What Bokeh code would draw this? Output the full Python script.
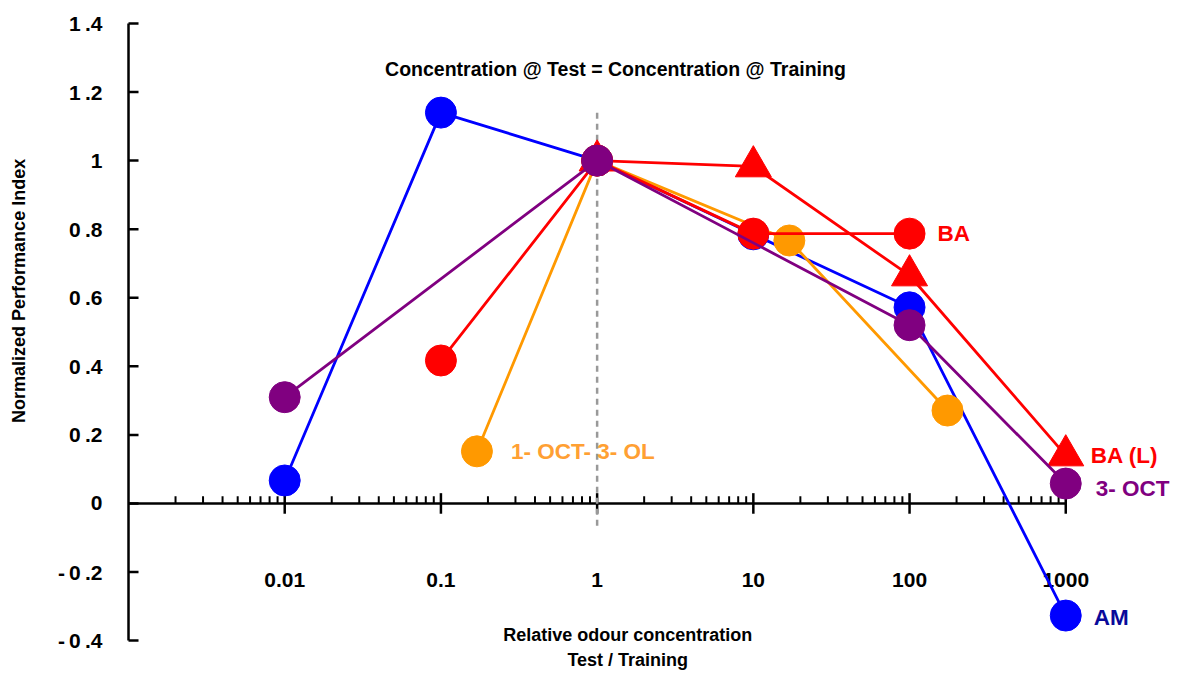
import numpy as np
from bokeh.plotting import figure
from bokeh.core.properties import value
from bokeh.embed import file_html
from bokeh.resources import INLINE

# ---- data ----
am_x = [0.01, 0.1, 1, 10, 100, 1000]
am_y = [0.067, 1.14, 1.0, 0.785, 0.572, -0.327]
ba_x = [0.1, 1, 10, 100]
ba_y = [0.417, 1.0, 0.787, 0.787]
bal_x = [1, 10, 100, 1000]
bal_y = [1.0, 0.983, 0.665, 0.14]
ol_x = [0.17, 1, 17, 175]
ol_y = [0.152, 1.0, 0.767, 0.271]
oct_x = [0.01, 1, 100, 1000]
oct_y = [0.31, 1.0, 0.52, 0.058]

x_tick_vals = [0.01, 0.1, 1, 10, 100, 1000]
x_tick_labels = ["0.01", "0.1", "1", "10", "100", "1000"]
y_tick_vals = [-0.4, -0.2, 0, 0.2, 0.4, 0.6, 0.8, 1.0, 1.2, 1.4]
T = "\u2009"
y_tick_labels = ["-" + T + "0" + T + ".4", "-" + T + "0" + T + ".2", "0",
                 "0" + T + ".2", "0" + T + ".4", "0" + T + ".6", "0" + T + ".8",
                 "1", "1" + T + ".2", "1" + T + ".4"]

X0 = 0.001  # where the y axis sits
FONT = value("Liberation Sans")
BLUE, RED, ORANGE, PURPLE = "#0000FF", "#FF0000", "#FF9900", "#800080"
LW = 2.8

p = figure(width=1181, height=673, x_axis_type="log",
           x_range=(10 ** -3.8195, 10 ** 3.741), y_range=(-0.496, 1.467),
           output_backend="svg", toolbar_location=None,
           min_border_left=0, min_border_right=0, min_border_top=0, min_border_bottom=0)
p.outline_line_color = None
p.xgrid.visible = False
p.ygrid.visible = False
p.axis.visible = False

# ---- y axis (drawn) ----
yv = np.array(y_tick_vals)
p.segment(x0=[X0], y0=[min(y_tick_vals)], x1=[X0], y1=[max(y_tick_vals)],
          line_color="black", line_width=2.5)
p.segment(x0=X0, y0=yv, x1=X0 * 10 ** (10 / 156.2), y1=yv, line_color="black", line_width=2.5)
p.text(x=[X0] * len(y_tick_vals), y=y_tick_vals, text=y_tick_labels, x_offset=-26,
       text_align="right", text_baseline="middle", text_font=FONT,
       text_font_style="bold", text_font_size="21px", text_color="black")
p.text(x=[X0], y=[0.62], text=["Normalized Performance Index"], x_offset=-110,
       angle=np.pi / 2, text_align="center", text_baseline="middle", text_font=FONT,
       text_font_style="bold", text_font_size="18px", text_color="black")

# ---- x axis drawn at y = 0 ----
p.segment(x0=[X0], y0=[0], x1=[max(x_tick_vals)], y1=[0], line_color="black", line_width=2.5)
major = np.array(x_tick_vals)
p.segment(x0=major, y0=-0.03, x1=major, y1=0.03, line_color="black", line_width=2.5)
minor = np.array([m * 10.0 ** e for e in range(-3, 3) for m in range(2, 10)])
p.segment(x0=minor, y0=0, x1=minor, y1=0.021, line_color="black", line_width=2)
p.text(x=x_tick_vals, y=[-0.2245] * len(x_tick_vals), text=x_tick_labels,
       text_align="center", text_baseline="middle", text_font=FONT,
       text_font_style="bold", text_font_size="21px", text_color="black")

# reference dashed line at 1
p.segment(x0=[1], y0=[-0.065], x1=[1], y1=[1.15], line_color="#999999",
          line_width=2.5, line_dash="6 5")

# ---- series ----
p.line(am_x, am_y, line_color=BLUE, line_width=LW)
p.scatter(am_x, am_y, size=31, color=BLUE)
p.line(ol_x, ol_y, line_color=ORANGE, line_width=LW)
p.scatter(ol_x, ol_y, size=31, color=ORANGE)
p.line(ba_x, ba_y, line_color=RED, line_width=LW)
p.scatter(ba_x, ba_y, size=31, color=RED)
p.line(bal_x, bal_y, line_color=RED, line_width=LW)
p.scatter(bal_x, bal_y, size=36, marker="triangle", color=RED)
p.line(oct_x, oct_y, line_color=PURPLE, line_width=LW)
p.scatter(oct_x, oct_y, size=31, color=PURPLE)

# series labels
def lab(x, y, t, c, dx, dy=0):
    p.text(x=[x], y=[y], text=[t], x_offset=dx, y_offset=dy, text_align="left",
           text_baseline="middle", text_font=FONT, text_font_style="bold",
           text_font_size="22.5px", text_color=c)

lab(ba_x[-1], ba_y[-1], "BA", RED, 28)
lab(bal_x[-1], bal_y[-1], "BA (L)", RED, 25, 0)
lab(oct_x[-1], oct_y[-1], "3- OCT", PURPLE, 30, 5)
lab(am_x[-1], am_y[-1], "AM", "#0A0A9A", 28, 2)
lab(ol_x[0], ol_y[0], "1- OCT- 3- OL", "#FFA033", 34)

# title inside the frame
p.text(x=[1.31], y=[1.266], text=["Concentration @ Test = Concentration @ Training"],
       text_align="center", text_baseline="middle", text_font=FONT,
       text_font_style="bold", text_font_size="19.5px", text_color="black")

# x axis title (two lines)
p.text(x=[1.57, 1.57], y=[-0.385, -0.458], text=["Relative odour concentration", "Test / Training"],
       text_align="center", text_baseline="middle", text_font=FONT,
       text_font_style="bold", text_font_size="18px", text_color="black")

open("out.html", "w").write(file_html(p, INLINE))
